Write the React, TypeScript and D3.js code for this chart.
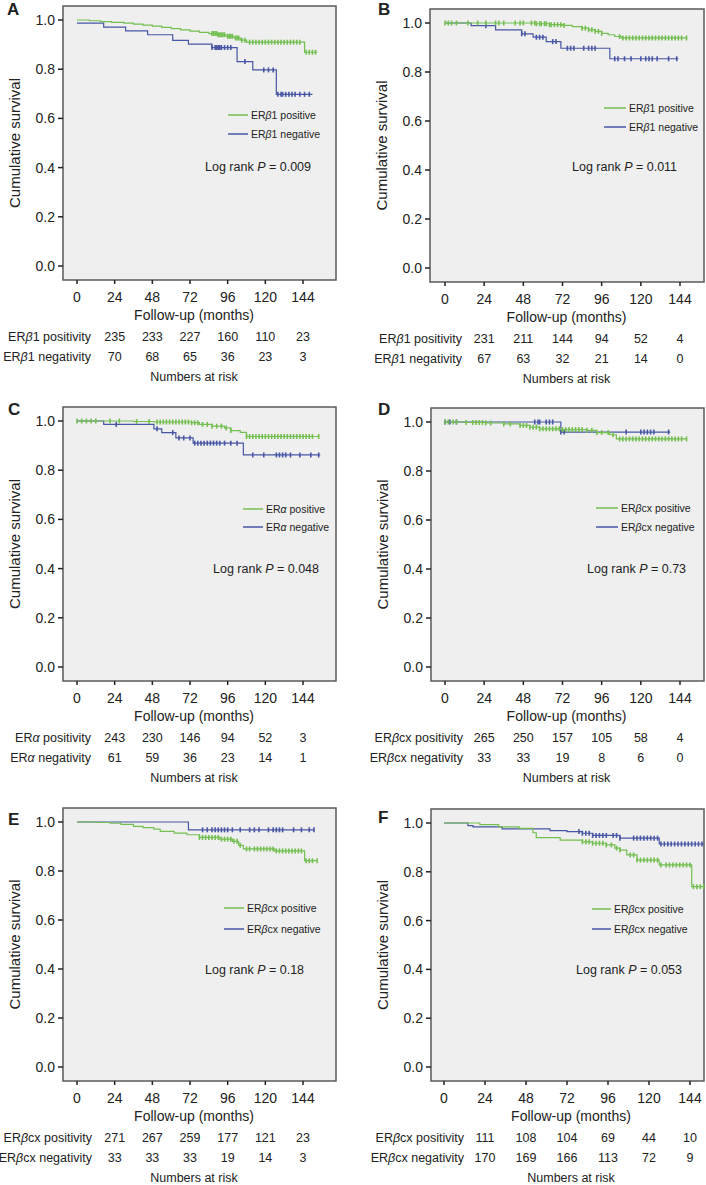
import React from 'react';
import * as d3 from 'd3';

type Pt = [number, number];

// ---- data: [months, cumulative survival] step points ----
const aPosSteps: Pt[] = [[0, 1], [8, 0.997], [15, 0.993], [22, 0.99], [30, 0.987], [36, 0.983], [42, 0.979], [48, 0.975], [54, 0.97], [60, 0.965], [66, 0.96], [72, 0.955], [78, 0.95], [84, 0.945], [90, 0.94], [95, 0.934], [100, 0.927], [104, 0.918], [108, 0.91], [145, 0.869]];
const aPosEnd = 153;
const aPosCens = [86, 87, 88, 89, 90, 91, 92, 93, 94, 96, 97, 98, 99, 101, 102, 103, 105, 107, 110, 112, 114, 116, 118, 120, 122, 124, 126, 128, 130, 132, 134, 136, 138, 140, 142, 146, 148, 150, 152];
const aNegSteps: Pt[] = [[0, 0.987], [17, 0.971], [31, 0.956], [45, 0.94], [61, 0.917], [71, 0.902], [86, 0.888], [102, 0.831], [112, 0.797], [127, 0.698]];
const aNegEnd = 150;
const aNegCens = [86, 88, 89, 90, 91, 92, 94, 96, 98, 107, 119, 122, 125, 128, 130, 131, 133, 135, 137, 139, 142, 145, 148];

const bPosSteps: Pt[] = [[0, 1], [56, 0.997], [64, 0.993], [72, 0.99], [78, 0.985], [84, 0.979], [88, 0.972], [92, 0.966], [96, 0.958], [100, 0.952], [104, 0.945], [108, 0.939]];
const bPosEnd = 148;
const bPosCens = [0, 2, 4, 7, 14, 20, 25, 31, 33, 36, 43, 46, 48, 53, 55, 56, 58, 59, 61, 62, 64, 65, 67, 69, 71, 73, 84, 86, 88, 90, 92, 94, 96, 107, 109, 111, 113, 115, 117, 119, 121, 123, 125, 127, 129, 131, 133, 135, 137, 139, 141, 143, 145, 148];
const bNegSteps: Pt[] = [[0, 1], [16, 0.989], [31, 0.972], [47, 0.956], [54, 0.942], [62, 0.924], [71, 0.897], [101, 0.854]];
const bNegEnd = 143;
const bNegCens = [25, 47, 49, 56, 58, 60, 66, 68, 75, 77, 79, 85, 88, 90, 92, 104, 106, 110, 114, 120, 123, 125, 127, 130, 137, 142];

const cPosSteps: Pt[] = [[0, 1], [36, 0.998], [49, 0.996], [73, 0.993], [78, 0.986], [86, 0.979], [94, 0.972], [98, 0.961], [104, 0.954], [108, 0.937]];
const cPosEnd = 154;
const cPosCens = [0, 3, 6, 9, 12, 21, 27, 38, 46, 51, 53, 55, 57, 59, 61, 63, 65, 67, 69, 71, 73, 75, 77, 80, 83, 86, 89, 92, 95, 98, 108, 110, 112, 114, 116, 118, 120, 122, 124, 126, 128, 130, 132, 134, 136, 138, 140, 142, 144, 146, 148, 150, 154];
const cNegSteps: Pt[] = [[0, 1], [17, 0.986], [49, 0.968], [54, 0.953], [63, 0.931], [74, 0.91], [106, 0.862]];
const cNegEnd = 155;
const cNegCens = [25, 51, 61, 65, 68, 72, 75, 77, 79, 81, 83, 85, 87, 89, 91, 94, 98, 102, 112, 119, 127, 129, 131, 133, 136, 142, 149, 154];

const dPosSteps: Pt[] = [[0, 1], [13, 0.998], [25, 0.996], [36, 0.992], [46, 0.986], [52, 0.979], [58, 0.972], [71, 0.969], [87, 0.966], [93, 0.957], [101, 0.948], [105, 0.931]];
const dPosEnd = 148;
const dPosCens = [0, 2, 5, 7, 13, 17, 19, 21, 23, 25, 28, 36, 40, 46, 48, 50, 52, 54, 56, 58, 60, 62, 64, 66, 68, 70, 72, 74, 76, 78, 80, 82, 84, 87, 90, 93, 96, 100, 103, 107, 109, 111, 113, 115, 117, 119, 121, 123, 125, 127, 129, 131, 133, 135, 137, 139, 141, 143, 145, 148];
const dNegSteps: Pt[] = [[0, 1], [71, 0.959]];
const dNegEnd = 138;
const dNegCens = [0, 3, 7, 55, 57, 58, 62, 64, 66, 71, 73, 111, 120, 122, 124, 126, 128, 137];

const ePosSteps: Pt[] = [[0, 1], [12, 0.998], [21, 0.995], [28, 0.99], [36, 0.982], [42, 0.977], [49, 0.971], [53, 0.962], [62, 0.955], [70, 0.948], [78, 0.937], [91, 0.93], [99, 0.921], [103, 0.905], [106, 0.89], [126, 0.882], [145, 0.842]];
const ePosEnd = 153;
const ePosCens = [78, 80, 82, 84, 86, 88, 90, 92, 94, 96, 98, 100, 102, 104, 108, 110, 113, 115, 117, 119, 121, 123, 125, 127, 129, 131, 133, 135, 137, 139, 141, 143, 146, 148, 150, 153];
const eNegSteps: Pt[] = [[0, 1], [71, 0.968]];
const eNegEnd = 151;
const eNegCens = [80, 83, 86, 88, 90, 92, 94, 96, 99, 104, 110, 113, 116, 122, 125, 127, 129, 131, 138, 143, 148, 151];

const fPosSteps: Pt[] = [[0, 1], [21, 0.993], [32, 0.984], [44, 0.978], [52, 0.96], [54, 0.94], [68, 0.93], [81, 0.923], [87, 0.917], [95, 0.91], [100, 0.897], [103, 0.889], [107, 0.869], [113, 0.848], [126, 0.828], [145, 0.739]];
const fPosEnd = 152;
const fPosCens = [81, 83, 85, 87, 89, 91, 93, 95, 98, 101, 103, 109, 111, 113, 115, 117, 119, 121, 123, 125, 127, 130, 132, 134, 136, 138, 140, 142, 144, 146, 148, 150, 152];
const fNegSteps: Pt[] = [[0, 1], [14, 0.989], [17, 0.984], [34, 0.976], [62, 0.969], [72, 0.965], [81, 0.958], [87, 0.949], [103, 0.938], [126, 0.914]];
const fNegEnd = 152;
const fNegCens = [79, 81, 83, 85, 87, 89, 91, 93, 95, 99, 101, 103, 111, 113, 115, 117, 119, 121, 123, 125, 127, 129, 131, 133, 135, 137, 139, 141, 143, 145, 147, 149, 151];

// numbers at risk
const aRiskPos = [235, 233, 227, 160, 110, 23];
const aRiskNeg = [70, 68, 65, 36, 23, 3];
const bRiskPos = [231, 211, 144, 94, 52, 4];
const bRiskNeg = [67, 63, 32, 21, 14, 0];
const cRiskPos = [243, 230, 146, 94, 52, 3];
const cRiskNeg = [61, 59, 36, 23, 14, 1];
const dRiskPos = [265, 250, 157, 105, 58, 4];
const dRiskNeg = [33, 33, 19, 8, 6, 0];
const eRiskPos = [271, 267, 259, 177, 121, 23];
const eRiskNeg = [33, 33, 33, 19, 14, 3];
const fRiskPos = [111, 108, 104, 69, 44, 10];
const fRiskNeg = [170, 169, 166, 113, 72, 9];

const xTicks = [0, 24, 48, 72, 96, 120, 144];
const yTicks = [0, 0.2, 0.4, 0.6, 0.8, 1.0];
const riskCols = [24, 48, 72, 96, 120, 144];

const GREEN = '#74bf52';
const BLUE = '#4856a6';
const FONT = '"Liberation Sans", Arial, sans-serif';
const TEXT = '#222';

// layout of each panel (pixels)
const panels = [
  { id: 'A', box: [63, 336, 6, 280], xr: [77, 303], leg: [228, 248, 115, 134], lr: [205, 167], lab: [7, 15], riskX: 91,
    pos: [aPosSteps, aPosEnd, aPosCens], neg: [aNegSteps, aNegEnd, aNegCens], grp: 'ERβ1', p: '0.009', risk: [aRiskPos, aRiskNeg] },
  { id: 'B', box: [430, 704, 9, 282], xr: [445, 680], leg: [604, 626, 108, 127], lr: [572, 167], lab: [378, 15], riskX: 462,
    pos: [bPosSteps, bPosEnd, bPosCens], neg: [bNegSteps, bNegEnd, bNegCens], grp: 'ERβ1', p: '0.011', risk: [bRiskPos, bRiskNeg] },
  { id: 'C', box: [63, 336, 407, 681], xr: [77, 303], leg: [243, 263, 509, 527], lr: [213, 569], lab: [8, 415], riskX: 91,
    pos: [cPosSteps, cPosEnd, cPosCens], neg: [cNegSteps, cNegEnd, cNegCens], grp: 'ERα', p: '0.048', risk: [cRiskPos, cRiskNeg] },
  { id: 'D', box: [431, 704, 408, 681], xr: [445, 680], leg: [596, 618, 508, 527], lr: [587, 569], lab: [378, 415], riskX: 463,
    pos: [dPosSteps, dPosEnd, dPosCens], neg: [dNegSteps, dNegEnd, dNegCens], grp: 'ERβcx', p: '0.73', risk: [dRiskPos, dRiskNeg] },
  { id: 'E', box: [63, 336, 808, 1081], xr: [77, 303], leg: [224, 244, 908, 929], lr: [205, 970], lab: [8, 825], riskX: 92,
    pos: [ePosSteps, ePosEnd, ePosCens], neg: [eNegSteps, eNegEnd, eNegCens], grp: 'ERβcx', p: '0.18', risk: [eRiskPos, eRiskNeg] },
  { id: 'F', box: [431, 704, 809, 1081], xr: [444, 690], leg: [592, 611, 909, 929], lr: [576, 970], lab: [378, 823], riskX: 464,
    pos: [fPosSteps, fPosEnd, fPosCens], neg: [fNegSteps, fNegEnd, fNegCens], grp: 'ERβcx', p: '0.053', risk: [fRiskPos, fRiskNeg] },
];

function stepValue(steps: Pt[], t: number) {
  let v = steps[0][1];
  for (const [st, sv] of steps) {
    if (st <= t) v = sv;
    else break;
  }
  return v;
}

// greek letters in italics
const Greek = ({ s }: { s: string }) => (
  <>
    {s.split(/([αβ])/).filter(Boolean).map((part, i) =>
      /[αβ]/.test(part)
        ? <tspan key={i} fontStyle="italic">{part}</tspan>
        : <tspan key={i}>{part}</tspan>
    )}
  </>
);

function Curve({ data, color, x, y }: any) {
  const [steps, end, cens] = data as [Pt[], number, number[]];
  const pts: Pt[] = [...steps, [end, steps[steps.length - 1][1]]];
  const line = d3.line<Pt>().x(d => x(d[0])).y(d => y(d[1])).curve(d3.curveStepAfter);
  return (
    <g>
      <path d={line(pts) || ''} fill="none" stroke={color} strokeWidth={1.2} />
      {cens.map((t: number, i: number) => {
        const yy = y(stepValue(steps, t));
        return <line key={i} x1={x(t)} x2={x(t)} y1={yy - 2.5} y2={yy + 2.5} stroke={color} strokeWidth={1.6} />;
      })}
    </g>
  );
}

function Panel({ p }: { p: any }) {
  const [left, right, top, bottom] = p.box;
  const x = d3.scaleLinear().domain([0, 144]).range(p.xr);
  const y = d3.scaleLinear().domain([0, 1]).range([bottom - 14, top + 14]);
  const midX = (p.xr[0] + p.xr[1]) / 2 + 4;
  const [l1, l2, ly1, ly2] = p.leg;
  const fmt = d3.format('.1f');
  return (
    <g fontFamily={FONT} fill={TEXT}>
      <text x={p.lab[0]} y={p.lab[1]} fontSize={17} fontWeight="bold">{p.id}</text>
      <rect x={left} y={top} width={right - left} height={bottom - top} fill="#efefef" stroke="#5a5a5a" strokeWidth={1.5} />
      {yTicks.map(t => (
        <g key={t}>
          <line x1={left - 5} x2={left} y1={y(t)} y2={y(t)} stroke="#222" strokeWidth={1.5} />
          <text x={left - 8} y={y(t)} dy="0.36em" textAnchor="end" fontSize={14}>{fmt(t)}</text>
        </g>
      ))}
      {xTicks.map(t => (
        <g key={t}>
          <line x1={x(t)} x2={x(t)} y1={bottom} y2={bottom + 4} stroke="#222" strokeWidth={1.5} />
          <text x={x(t)} y={bottom + 22} textAnchor="middle" fontSize={14}>{t}</text>
        </g>
      ))}
      <text transform={`translate(${left - 43},${(top + bottom) / 2}) rotate(-90)`} textAnchor="middle" fontSize={15}>Cumulative survival</text>
      <text x={midX} y={bottom + 40} textAnchor="middle" fontSize={14}>Follow-up (months)</text>

      <Curve data={p.neg} color={BLUE} x={x} y={y} />
      <Curve data={p.pos} color={GREEN} x={x} y={y} />

      <line x1={l1} x2={l2} y1={ly1} y2={ly1} stroke={GREEN} strokeWidth={1.5} />
      <text x={l2 + 3} y={ly1} dy="0.35em" fontSize={10.5}><Greek s={`${p.grp} positive`} /></text>
      <line x1={l1} x2={l2} y1={ly2} y2={ly2} stroke={BLUE} strokeWidth={1.5} />
      <text x={l2 + 3} y={ly2} dy="0.35em" fontSize={10.5}><Greek s={`${p.grp} negative`} /></text>
      <text x={p.lr[0]} y={p.lr[1]} dy="0.35em" fontSize={12.5}>
        Log rank <tspan fontStyle="italic">P</tspan> = {p.p}
      </text>

      {[0, 1].map(r => (
        <g key={r}>
          <text x={p.riskX} y={bottom + 57 + r * 20} dy="0.35em" textAnchor="end" fontSize={12.5}>
            <Greek s={`${p.grp} ${r === 0 ? 'positivity' : 'negativity'}`} />
          </text>
          {p.risk[r].map((v: number, i: number) => (
            <text key={i} x={x(riskCols[i])} y={bottom + 57 + r * 20} dy="0.35em" textAnchor="middle" fontSize={12.5}>{v}</text>
          ))}
        </g>
      ))}
      <text x={midX} y={bottom + 97} dy="0.35em" textAnchor="middle" fontSize={12.5}>Numbers at risk</text>
    </g>
  );
}

export default function App() {
  return (
    <svg width={706} height={1185} style={{ position: 'absolute', left: 0, top: 0, background: '#fff' }}>
      <rect width={706} height={1185} fill="#fff" />
      {panels.map(p => <Panel key={p.id} p={p} />)}
    </svg>
  );
}
